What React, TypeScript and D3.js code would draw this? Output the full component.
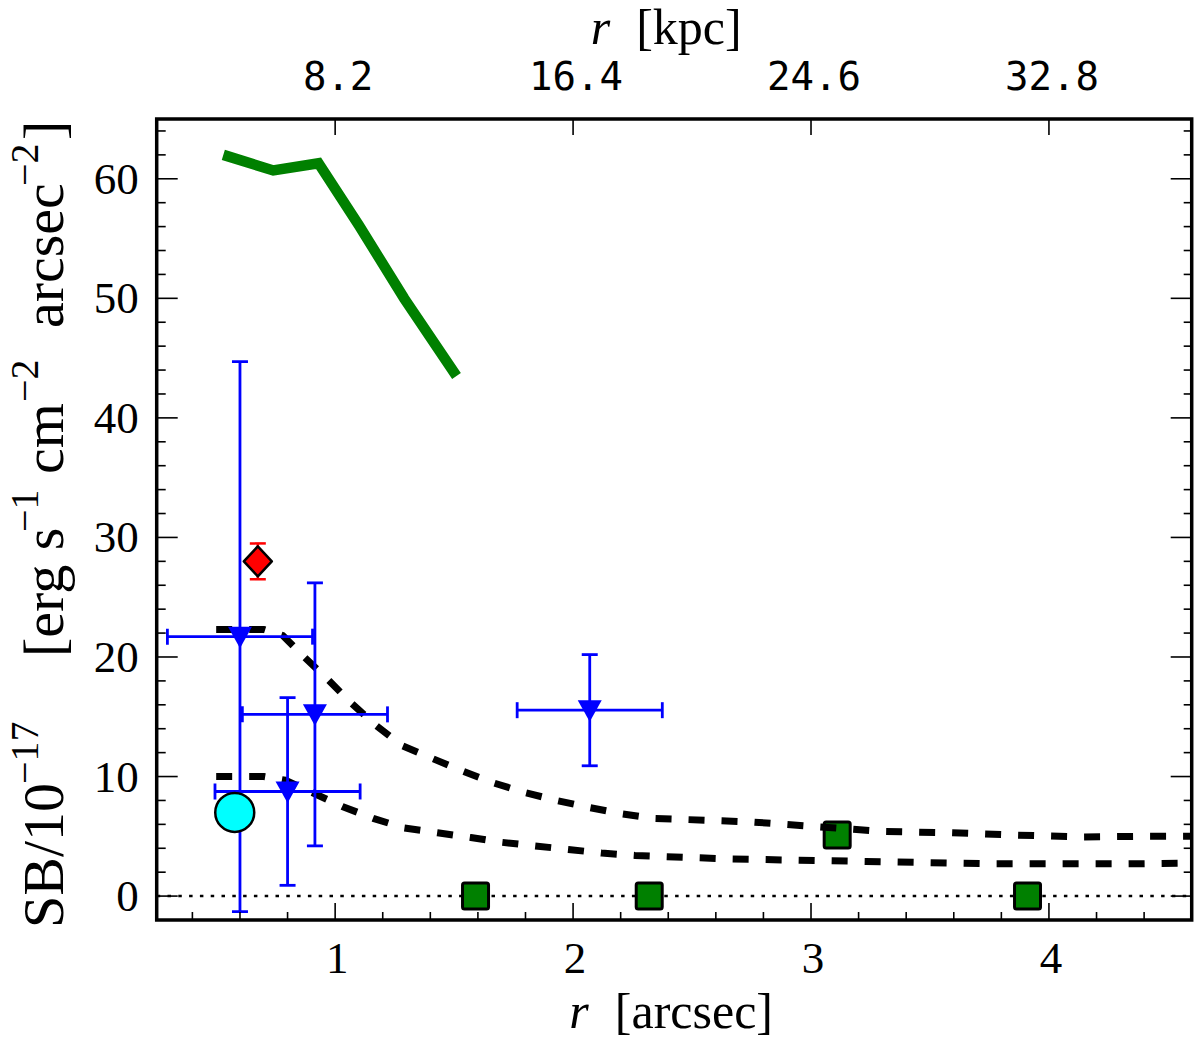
import React from 'react';
import * as d3 from 'd3';

// green profile (thick solid line)
const profileX = [0.53, 0.74, 0.93, 1.1, 1.29, 1.51];
const profileY = [62.0, 60.7, 61.3, 56.1, 50.0, 43.5];

// model curves (dashed)
const modelHiX = [0.5, 0.7, 0.78, 0.87, 0.97, 1.07, 1.17, 1.28, 1.41, 1.53, 1.66, 1.79, 1.93, 2.07, 2.2, 2.34, 2.48, 2.75, 3.03, 3.31, 3.59, 3.86, 4.14, 4.41, 4.6];
const modelHiY = [22.3, 22.3, 21.8, 20.0, 18.1, 16.1, 14.3, 12.6, 11.5, 10.5, 9.5, 8.7, 8.0, 7.4, 6.9, 6.5, 6.4, 6.2, 5.8, 5.4, 5.3, 5.1, 4.95, 5.0, 5.0];
const modelLoX = [0.5, 0.7, 0.79, 0.91, 1.03, 1.16, 1.29, 1.43, 1.57, 1.7, 1.84, 1.98, 2.12, 2.26, 2.39, 2.67, 2.95, 3.23, 3.5, 3.78, 4.05, 4.33, 4.6];
const modelLoY = [10.0, 10.0, 9.7, 8.6, 7.5, 6.5, 5.7, 5.3, 4.9, 4.5, 4.2, 3.9, 3.6, 3.4, 3.3, 3.1, 3.0, 2.9, 2.8, 2.7, 2.7, 2.7, 2.75];

// blue triangles with errors
const triX = [0.6, 0.915, 0.8, 2.07];
const triY = [21.7, 15.2, 8.75, 15.55];
const triXErr = [0.305, 0.305, 0.305, 0.305];
const triYErr = [23.0, 11.0, 7.85, 4.65];

// red diamond
const diaX = [0.675];
const diaY = [28.0];
const diaYErr = [1.5];

// cyan circle
const circX = [0.578];
const circY = [7.0];

// green squares
const sqX = [1.59, 2.32, 3.11, 3.91];
const sqY = [0, 0, 5.1, 0];

// top axis (kpc)
const topTicks = [1, 2, 3, 4];
const topLabels = ['8.2', '16.4', '24.6', '32.8'];

const W = 1200;
const H = 1047;
const margin = { left: 156.7, right: 1191.7, top: 119, bottom: 920 };

const serif = '"Liberation Serif", "DejaVu Serif", serif';

export default function App() {
  const x = d3.scaleLinear().domain([0.25, 4.6]).range([margin.left, margin.right]);
  const y = d3.scaleLinear().domain([-2, 65]).range([margin.bottom, margin.top]);

  const line = d3.line<[number, number]>().x((d) => x(d[0])).y((d) => y(d[1]));
  const zip = (a: number[], b: number[]) => a.map((v, i) => [v, b[i]] as [number, number]);

  const xMajor = d3.range(1, 5);
  const xMinor = d3.range(0.4, 4.6, 0.2).filter((v) => Math.abs(v - Math.round(v)) > 1e-6);
  const yMajor = d3.range(0, 61, 10);
  const yMinor = d3.range(-2, 65, 2).filter((v) => v % 10 !== 0);

  const tickStroke = { stroke: '#000', strokeWidth: 1.6 };
  const cap = 8;

  return (
    <div style={{ position: 'absolute', left: 0, top: 0 }}>
      <svg width={W} height={H} viewBox={`0 0 ${W} ${H}`} style={{ display: 'block', background: '#fff' }}>
        <defs>
          <clipPath id="plot">
            <rect x={margin.left} y={margin.top} width={margin.right - margin.left} height={margin.bottom - margin.top} />
          </clipPath>
        </defs>

        <g clipPath="url(#plot)">
          {/* zero line */}
          <line x1={x(0.25)} x2={x(4.6)} y1={y(0)} y2={y(0)} stroke="#000" strokeWidth={2.5} strokeDasharray="3.5,7.3" />

          {/* green profile */}
          <path d={line(zip(profileX, profileY)) ?? ''} fill="none" stroke="#008000" strokeWidth={10.5} />

          {/* green squares */}
          {sqX.map((v, i) => (
            <rect key={i} x={x(v) - 13} y={y(sqY[i]) - 13} width={26} height={26} rx={2}
              fill="#008000" stroke="#000" strokeWidth={3} />
          ))}

          {/* model curves */}
          <path d={line(zip(modelHiX, modelHiY)) ?? ''} fill="none" stroke="#000" strokeWidth={7} strokeDasharray="16,17" />
          <path d={line(zip(modelLoX, modelLoY)) ?? ''} fill="none" stroke="#000" strokeWidth={7} strokeDasharray="16,17" />

          {/* blue error bars + triangles */}
          {triX.map((v, i) => {
            const cx = x(v);
            const cy = y(triY[i]);
            const x0 = x(v - triXErr[i]);
            const x1 = x(v + triXErr[i]);
            const y0 = y(triY[i] - triYErr[i]);
            const y1 = y(triY[i] + triYErr[i]);
            return (
              <g key={i} stroke="#0000ff" strokeWidth={2.8}>
                <line x1={x0} x2={x1} y1={cy} y2={cy} />
                <line x1={cx} x2={cx} y1={y0} y2={y1} />
                <line x1={x0} x2={x0} y1={cy - cap} y2={cy + cap} />
                <line x1={x1} x2={x1} y1={cy - cap} y2={cy + cap} />
                <line x1={cx - cap} x2={cx + cap} y1={y0} y2={y0} />
                <line x1={cx - cap} x2={cx + cap} y1={y1} y2={y1} />
                <path d={`M${cx - 12},${cy - 10}L${cx + 12},${cy - 10}L${cx},${cy + 11.5}Z`} fill="#0000ff" stroke="none" />
              </g>
            );
          })}

          {/* red diamond */}
          {diaX.map((v, i) => {
            const cx = x(v);
            const cy = y(diaY[i]);
            const y0 = y(diaY[i] - diaYErr[i]);
            const y1 = y(diaY[i] + diaYErr[i]);
            return (
              <g key={i}>
                <g stroke="#ff0000" strokeWidth={2.5}>
                  <line x1={cx} x2={cx} y1={y0} y2={y1} />
                  <line x1={cx - cap} x2={cx + cap} y1={y0} y2={y0} />
                  <line x1={cx - cap} x2={cx + cap} y1={y1} y2={y1} />
                </g>
                <path d={`M${cx},${cy - 15}L${cx + 14},${cy}L${cx},${cy + 15}L${cx - 14},${cy}Z`}
                  fill="#ff0000" stroke="#000" strokeWidth={2.5} strokeLinejoin="round" />
              </g>
            );
          })}

          {/* cyan circle */}
          {circX.map((v, i) => (
            <circle key={i} cx={x(v)} cy={y(circY[i])} r={19.5} fill="#00ffff" stroke="#000" strokeWidth={2.5} />
          ))}
        </g>

        {/* ticks */}
        <g {...tickStroke}>
          {xMajor.map((t) => (
            <line key={`bx${t}`} x1={x(t)} x2={x(t)} y1={margin.bottom} y2={margin.bottom - 17} />
          ))}
          {xMinor.map((t) => (
            <line key={`bxm${t}`} x1={x(t)} x2={x(t)} y1={margin.bottom} y2={margin.bottom - 8} />
          ))}
          {topTicks.map((t) => (
            <line key={`tx${t}`} x1={x(t)} x2={x(t)} y1={margin.top} y2={margin.top + 16} />
          ))}
          {yMajor.map((t) => (
            <g key={`y${t}`}>
              <line x1={margin.left} x2={margin.left + 21} y1={y(t)} y2={y(t)} />
              <line x1={margin.right} x2={margin.right - 21} y1={y(t)} y2={y(t)} />
            </g>
          ))}
          {yMinor.map((t) => (
            <g key={`ym${t}`}>
              <line x1={margin.left} x2={margin.left + 9} y1={y(t)} y2={y(t)} />
              <line x1={margin.right} x2={margin.right - 8} y1={y(t)} y2={y(t)} />
            </g>
          ))}
        </g>

        {/* frame */}
        <rect x={margin.left} y={margin.top} width={margin.right - margin.left} height={margin.bottom - margin.top}
          fill="none" stroke="#000" strokeWidth={3.5} />

        {/* tick labels */}
        <g fontFamily={serif} fontSize={45} fill="#000">
          {xMajor.map((t) => (
            <text key={`bl${t}`} x={x(t) + 2} y={margin.bottom + 53} textAnchor="middle">{t}</text>
          ))}
          {yMajor.map((t) => (
            <text key={`yl${t}`} x={margin.left - 18} y={y(t) + 15} textAnchor="end">{t}</text>
          ))}
        </g>
        <g fontFamily='"DejaVu Sans Mono", "Liberation Mono", monospace' fontSize={39} fill="#000">
          {topTicks.map((t, i) => (
            <text key={`tl${t}`} x={x(t) + 3} y={90} textAnchor="middle">{topLabels[i]}</text>
          ))}
        </g>

        {/* axis labels */}
        <text x={(margin.left + margin.right) / 2 - 3} y={1028} textAnchor="middle" fontFamily={serif} fontSize={50}>
          <tspan fontStyle="italic">r</tspan>
          <tspan dx={26}>[arcsec]</tspan>
        </text>
        <text x={(margin.left + margin.right) / 2 - 8} y={44} textAnchor="middle" fontFamily={serif} fontSize={50}>
          <tspan fontStyle="italic">r</tspan>
          <tspan dx={26}>[kpc]</tspan>
        </text>

        <g transform="translate(63,0) rotate(-90)" fontFamily={serif} fill="#000">
          <text x={-928} y={0} fontSize={58}>SB/10</text>
          <text x={-784} y={-25} fontSize={40}>−17</text>
          <text x={-657} y={0} fontSize={58}>[erg s</text>
          <text x={-532} y={-25} fontSize={40}>−1</text>
          <text x={-474} y={0} fontSize={58}>cm</text>
          <text x={-402} y={-25} fontSize={40}>−2</text>
          <text x={-328} y={0} fontSize={58}>arcsec</text>
          <text x={-186} y={-25} fontSize={40}>−2</text>
          <text x={-140} y={0} fontSize={58}>]</text>
        </g>
      </svg>
    </div>
  );
}
